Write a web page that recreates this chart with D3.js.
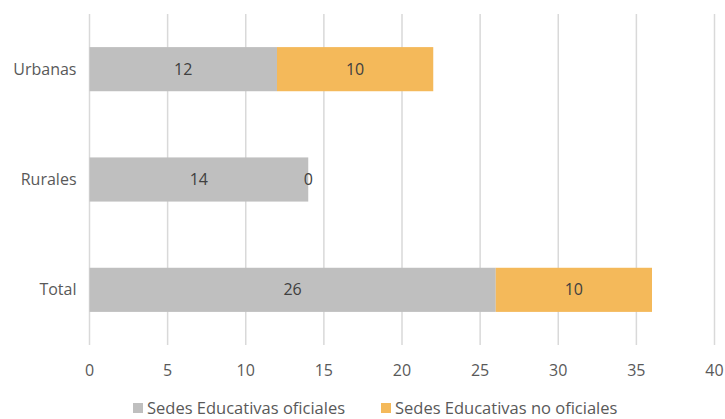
<!DOCTYPE html>
<html><head><meta charset="utf-8">
<script src="https://cdn.jsdelivr.net/npm/d3@7"></script>
<style>body{margin:0;background:#fff;}svg{display:block;font-family:"Open Sans","Liberation Sans",sans-serif;}</style>
</head><body><svg id="c" width="725" height="419"></svg>
<script>
const categories = ["Urbanas", "Rurales", "Total"];
const oficiales = [12, 14, 26];
const noOficiales = [10, 0, 10];
const seriesNames = ["Sedes Educativas oficiales", "Sedes Educativas no oficiales"];
const colors = ["#BFBFBF", "#F4B95A"];
const xTicks = [0, 5, 10, 15, 20, 25, 30, 35, 40];

(function(){
const svg = d3.select("#c");
const pL = 89.5, pR = 714.5, pT = 14, pB = 345;
const x = d3.scaleLinear().domain([0, 40]).range([pL, pR]);
const y = d3.scaleBand().domain(categories).range([pT, pB]).paddingInner(0.6).paddingOuter(0.3);

svg.append("g").selectAll("line").data(xTicks).join("line")
  .attr("x1", d => x(d)).attr("x2", d => x(d)).attr("y1", pT).attr("y2", pB)
  .attr("stroke", "#D9D9D9").attr("stroke-width", 1.5);

const data = categories.map((c, i) => ({c, vals: [oficiales[i], noOficiales[i]]}));
data.forEach(d => {
  let acc = 0;
  d.vals.forEach((v, j) => {
    svg.append("rect").attr("x", x(acc)).attr("width", x(acc + v) - x(acc))
      .attr("y", y(d.c)).attr("height", y.bandwidth()).attr("fill", colors[j]);
    svg.append("text").attr("x", (x(acc) + x(acc + v)) / 2).attr("y", y(d.c) + y.bandwidth() / 2)
      .attr("dy", "0.35em").attr("text-anchor", "middle").attr("fill", "#404040")
      .attr("font-size", 16).text(v);
    acc += v;
  });
});

svg.append("g").selectAll("text").data(categories).join("text")
  .attr("x", pL - 13).attr("y", d => y(d) + y.bandwidth() / 2).attr("dy", "0.35em")
  .attr("text-anchor", "end").attr("fill", "#595959").attr("font-size", 16).text(d => d);

svg.append("g").selectAll("text").data(xTicks).join("text")
  .attr("x", d => x(d)).attr("y", 370).attr("dy", "0.35em")
  .attr("text-anchor", "middle").attr("fill", "#595959").attr("font-size", 16).text(d => d);

const leg = svg.append("g");
const legX = [133, 381];
seriesNames.forEach((n, i) => {
  leg.append("rect").attr("x", legX[i]).attr("y", 403).attr("width", 10).attr("height", 10).attr("fill", colors[i]);
  leg.append("text").attr("x", legX[i] + 14).attr("y", 408).attr("dy", "0.35em")
    .attr("fill", "#595959").attr("font-size", 16.5).text(n);
});
})();
</script></body></html>
